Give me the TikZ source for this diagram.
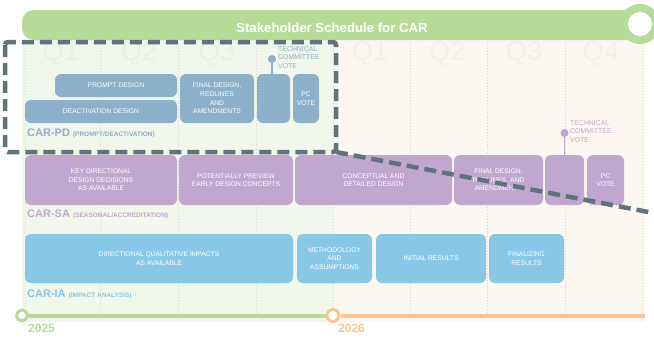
\documentclass[tikz,border=0pt]{standalone}
\usepackage{fontspec}
\setmainfont{Liberation Sans}
\definecolor{hdr}{HTML}{B7DC98}
\definecolor{pdcol}{HTML}{8CB0C9}
\definecolor{sacol}{HTML}{C1A7D0}
\definecolor{iacol}{HTML}{89C7E6}
\definecolor{orng}{HTML}{F9C490}
\definecolor{dashcol}{HTML}{5E737E}
\definecolor{tintA}{HTML}{F1F7EB}
\definecolor{tintB}{HTML}{FDF7F2}
\newcommand{\rowsub}[1]{{\fontsize{6.5}{6.5}\selectfont #1}}
\begin{document}
\begin{tikzpicture}[x=1pt,y=-1pt,
  box/.style={rounded corners=6pt, inner sep=1pt, text=white, align=center,
    font=\fontsize{6.7}{8.6}\selectfont},
  pdbox/.style={box, fill=pdcol},
  sabox/.style={box, fill=sacol},
  iabox/.style={box, fill=iacol},
  pindot/.style={circle, inner sep=0pt, minimum size=8pt},
  pinlabel/.style={anchor=north west, inner sep=0pt, align=left,
    font=\fontsize{6.9}{8.7}\selectfont},
  rowlabel/.style={anchor=base west, inner sep=0pt, font=\bfseries\fontsize{11}{11}\selectfont},
  quarter/.style={font=\fontsize{27}{27}\selectfont, text=black, text opacity=0.03},
  qline/.style={black!16, line width=0.9pt, dotted},
  year/.style={anchor=base west, inner sep=0pt, font=\bfseries\fontsize{12}{12}\selectfont},
  zoomframe/.style={dashcol, line width=4.5pt, dash pattern=on 12pt off 6pt}
]
\useasboundingbox (0,0) rectangle (654,338);
\clip (0,0) rectangle (654,338);
\fill[white] (0,0) rectangle (654,338);

% year panels
\fill[tintA] (22,40) rectangle (333,322);
\fill[tintB] (333,40) rectangle (645,322);

% quarter separators
\foreach \qx in {25,100,178,256,333,410,487,565,642}
  \draw[qline] (\qx,42) -- (\qx,314);

% quarter names
\foreach \qx/\qn in {61/Q1,139/Q2,217/Q3,294/Q4,370/Q1,447/Q2,524/Q3,601/Q4}
  \node[quarter] at (\qx,54) {\qn};

% header bar
\fill[hdr, rounded corners=12pt] (22,10) rectangle (640,40);
\fill[hdr] (40,25) rectangle (640,40);
\fill[hdr] (600,10) rectangle (640,40);
\fill[hdr] (640,24) circle (20pt);
\fill[white] (640,24) circle (12pt);
\node[text=white, font=\bfseries\fontsize{13.2}{13.2}\selectfont] (title) at (332,27.5) {Stakeholder Schedule for CAR};

% CAR-PD row
\node[pdbox, minimum width=122pt, minimum height=23pt] (prompt) at (116,85.5) {PROMPT DESIGN};
\node[pdbox, minimum width=152pt, minimum height=23pt] (deact) at (101,111.5) {DEACTIVATION DESIGN};
\node[pdbox, minimum width=74pt, minimum height=49pt] (pdfinal) at (217,98.5) {FINAL DESIGN,\\REDLINES\\AND\\AMENDMENTS};
\node[pdbox, minimum width=33pt, minimum height=49pt] (pdtc) at (273.5,98.5) {};
\node[pdbox, minimum width=26pt, minimum height=49pt] (pdpc) at (306,98.5) {PC\\VOTE};
\node[pindot, fill=pdcol] (pddot) at (272,59) {};
\draw[pdcol, line width=1.6pt] (pddot.center) -- (pdtc.north -| pddot);
\node[pinlabel, text=pdcol] (pdtclab) at (278,46) {TECHNICAL\\COMMITTEE\\VOTE};
\node[rowlabel, text=pdcol] (pdlab) at (27,136) {CAR-PD \rowsub{(PROMPT/DEACTIVATION)}};

% CAR-SA row
\node[sabox, minimum width=152pt, minimum height=50pt] (key) at (101,180) {KEY DIRECTIONAL\\DESIGN DECISIONS\\AS AVAILABLE};
\node[sabox, minimum width=114pt, minimum height=50pt] (preview) at (236,180) {POTENTIALLY PREVIEW\\EARLY DESIGN CONCEPTS};
\node[sabox, minimum width=157pt, minimum height=50pt] (concept) at (373.5,180) {CONCEPTUAL AND\\DETAILED DESIGN};
\node[sabox, minimum width=89pt, minimum height=50pt] (safinal) at (498.5,180) {FINAL DESIGN,\\REDLINES, AND\\AMENDMENTS};
\node[sabox, minimum width=39pt, minimum height=50pt] (satc) at (564.5,180) {};
\node[sabox, minimum width=37pt, minimum height=50pt] (sapc) at (605.5,180) {PC\\VOTE};
\node[pindot, fill=sacol] (sadot) at (564.5,133) {};
\draw[sacol, line width=1.6pt] (sadot.center) -- (satc.north -| sadot);
\node[pinlabel, text=sacol] (satclab) at (570,120) {TECHNICAL\\COMMITTEE\\VOTE};
\node[rowlabel, text=sacol] (salab) at (27,217) {CAR-SA \rowsub{(SEASONAL/ACCREDITATION)}};

% CAR-IA row
\node[iabox, minimum width=268pt, minimum height=49pt] (dirq) at (159,258.5) {DIRECTIONAL QUALITATIVE IMPACTS\\AS AVAILABLE};
\node[iabox, minimum width=75pt, minimum height=49pt] (method) at (334.5,258.5) {METHODOLOGY\\AND\\ASSUMPTIONS};
\node[iabox, minimum width=110pt, minimum height=49pt] (initial) at (431,258.5) {INITIAL RESULTS};
\node[iabox, minimum width=75pt, minimum height=49pt] (finaliz) at (526.5,258.5) {FINALIZING\\RESULTS};
\node[rowlabel, text=iacol] (ialab) at (27,297) {CAR-IA \rowsub{(IMPACT ANALYSIS)}};

% timeline
\coordinate (tend) at (645,315.5);
\node[circle, draw=hdr, fill=white, line width=3pt, minimum size=11pt, inner sep=0pt] (y25) at (22,315.5) {};
\node[circle, draw=orng, fill=white, line width=3pt, minimum size=12pt, inner sep=0pt] (y26) at (333,315.5) {};
\draw[hdr, line width=4pt] (y25) -- (y26);
\draw[orng, line width=4pt] (y26) -- (tend);
\node[year, text=hdr] (y25lab) at (28,332) {2025};
\node[year, text=orng] (y26lab) at (338,332) {2026};

% zoom frame around the CAR-PD row
\coordinate (zc) at (336,152);
\coordinate (ze) at (664,215);
\draw[zoomframe, rounded corners=3pt] (5,42) rectangle (zc);
\draw[zoomframe] (zc) -- (ze);
\end{tikzpicture}
\end{document}
